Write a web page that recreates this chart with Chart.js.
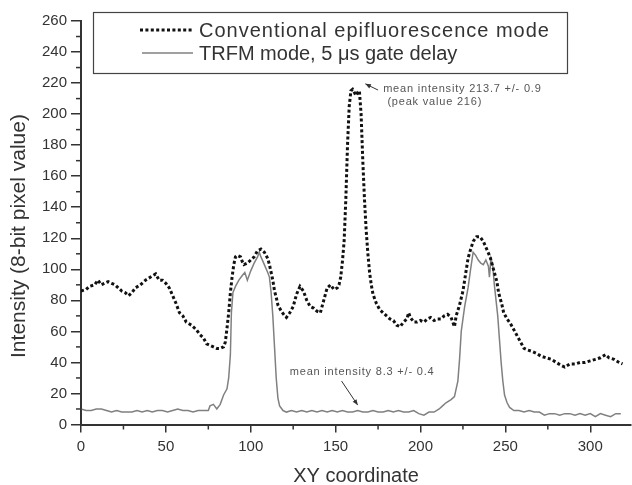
<!DOCTYPE html>
<html>
<head>
<meta charset="utf-8">
<script src="https://cdn.jsdelivr.net/npm/chart.js@4.4.0/dist/chart.umd.min.js"></script>
<style>
  body { margin: 0; background: #fff; }
</style>
</head>
<body>
<canvas id="profile" width="632" height="485"></canvas>
<script>
// conventional epifluorescence profile
const convX = [0,3,5,8,10,12,14,16,18,20,22,24,26,28,30,32,35,38,41,44,46,48,50,52,54,56,58,60,62,65,
  68,70,72,74,76,78,80,82,84,85,86,87,88,89,90,91,92,94,95,96,98,100,102,104,106,108,110,111,112,113,
  114,115,116,118,120,121,123,125,127,129,131,133,135,137,139,141,143,145,147,149,151,152,153,154,155,156,157,158,159,160,
  161,162,163,164,165,166,167,168,169,170,171,172,174,176,178,180,182,184,186,188,190,192,193,194,196,198,200,202,204,206,
  208,210,212,214,216,218,220,221,223,225,226,227,228,229,231,233,235,237,239,241,243,245,246,248,249,251,253,255,257,259,
  261,263,266,268,271,274,277,280,283,285,288,291,294,297,300,303,306,309,311,314,317,319];
const convY = [86,87,89,90,93,90,91,92,91,90,88,86,85,83,85,88,90,93,95,97,93,93,91,88,83,78,72,70,66,64,
  61,58,56,52,51,50,49,49,50,53,62,72,85,95,103,108,109,108,105,103,104,106,108,112,113,111,107,103,98,93,
  86,82,77,73,70,69,72,76,84,89,86,80,76,75,73,72,80,88,90,87,88,90,95,105,118,145,180,205,215,216,
  214,212,214,215,200,170,145,125,110,98,90,84,78,74,72,70,68,67,64,63,66,68,72,69,66,66,67,66,68,69,
  67,68,68,70,71,69,63,70,77,86,93,100,107,111,118,121,121,118,113,108,100,92,85,77,72,68,65,61,57,53,
  49,48,47,46,44,43,42,40,38,37,39,39,40,40,41,42,43,45,43,42,40,39];

// TRFM, 5 us gate delay
const trfmX = [0,3,6,9,12,15,18,21,24,27,30,33,36,39,42,45,48,51,54,57,
  60,63,66,69,72,75,76,78,80,82,84,86,87,88,88.6,89.5,91,93,95,96.5,
  98,100,102,104,105,106,108,110,111,112,113,114,115,116,117,119,121,124,127,130,
  133,136,139,142,145,148,151,154,157,160,163,166,169,172,175,178,181,184,187,190,
  193,196,199,202,205,208,211,213,215,218,220,222,223,224,226,228,229.5,231,232.5,234,
  235.5,237,238.5,240,240.6,241.5,242.5,243.5,244.5,245.5,246.5,247.5,248.5,249.5,251,252.5,255,258,261,264,
  267,270,273,276,279,282,285,288,291,294,297,300,303,306,309,312,315,318];
const trfmY = [10,9,9,10,10,9,8,9,8,8,8,9,8,9,8,9,9,8,9,10,
  9,9,8,9,9,9,12,13,10,13,19,23,30,45,72,85,89,93,96,98,
  93,99,104,108,111,108,103,98,95,85,70,50,30,17,12,9,8,9,8,9,
  8,9,8,9,8,9,8,9,8,8,9,8,8,9,8,8,9,8,9,8,
  8,9,7,6,8,8,10,12,14,16,18,28,42,60,76,88,100,111,109,106,
  104,103,106,102,95,107,103,90,80,70,55,40,28,19,14,11,9,9,8,9,
  8,8,6,7,7,6,7,7,6,7,6,7,5,7,6,5,7,7];

const xTicks = [0, 50, 100, 150, 200, 250, 300];
const xMinor = [25, 75, 125, 175, 225, 275];
const yTicks = [0,20,40,60,80,100,120,140,160,180,200,220,240,260];
const yMinor = [10,30,50,70,90,110,130,150,170,190,210,230,250];

const seriesNames = ['Conventional epifluorescence mode', 'TRFM mode, 5 \u03bcs gate delay'];
const notes = [
  { text: 'mean intensity 213.7 +/- 0.9', x: 178, y: 216 },
  { text: '(peak value 216)', x: 180.5, y: 208 },
  { text: 'mean intensity 8.3 +/- 0.4', x: 123, y: 34 }
];
const arrows = [
  { from: [175, 215.5], to: [167.5, 219.5] },
  { from: [153.5, 28], to: [163, 12.5] }
];

const axisColor = '#333';
const textColor = '#333';
const dotDash = [3, 2.4];
const grayLine = '#808080';

function pairs(xs, ys) {
  return xs.map((x, i) => ({ x: x, y: ys[i] }));
}

function arrow(ctx, x1, y1, x2, y2) {
  const a = Math.atan2(y2 - y1, x2 - x1);
  ctx.beginPath();
  ctx.moveTo(x1, y1);
  ctx.lineTo(x2, y2);
  ctx.stroke();
  ctx.beginPath();
  ctx.moveTo(x2, y2);
  ctx.lineTo(x2 - 6 * Math.cos(a - 0.4), y2 - 6 * Math.sin(a - 0.4));
  ctx.lineTo(x2 - 6 * Math.cos(a + 0.4), y2 - 6 * Math.sin(a + 0.4));
  ctx.closePath();
  ctx.fill();
}

const overlay = {
  id: 'overlay',
  afterDraw(chart) {
    const ctx = chart.ctx;
    const xs = chart.scales.x, ys = chart.scales.y;
    const area = chart.chartArea;
    ctx.save();

    // minor ticks
    ctx.strokeStyle = axisColor;
    ctx.lineWidth = 1.5;
    xMinor.forEach(v => {
      const px = xs.getPixelForValue(v);
      ctx.beginPath();
      ctx.moveTo(px, area.bottom);
      ctx.lineTo(px, area.bottom + 5);
      ctx.stroke();
    });
    yMinor.forEach(v => {
      const py = ys.getPixelForValue(v);
      ctx.beginPath();
      ctx.moveTo(area.left - 5, py);
      ctx.lineTo(area.left + 1, py);
      ctx.stroke();
    });

    // legend box
    ctx.strokeStyle = '#444';
    ctx.lineWidth = 1.2;
    ctx.strokeRect(93.5, 12.5, 474, 61);
    ctx.lineWidth = 3;
    ctx.strokeStyle = '#111';
    ctx.setLineDash(dotDash);
    ctx.beginPath();
    ctx.moveTo(140, 30);
    ctx.lineTo(194, 30);
    ctx.stroke();
    ctx.setLineDash([]);
    ctx.lineWidth = 1.5;
    ctx.strokeStyle = grayLine;
    ctx.beginPath();
    ctx.moveTo(142, 53);
    ctx.lineTo(193, 53);
    ctx.stroke();
    ctx.fillStyle = textColor;
    ctx.font = '20px "Liberation Sans", Arial, sans-serif';
    ctx.textBaseline = 'middle';
    ctx.textAlign = 'left';
    ctx.letterSpacing = '1px';
    ctx.fillText(seriesNames[0], 199, 31);
    ctx.letterSpacing = '0px';
    ctx.fillText(seriesNames[1], 199, 54);

    // annotations
    ctx.fillStyle = '#555';
    ctx.strokeStyle = '#555';
    ctx.lineWidth = 1;
    ctx.font = '11px "Liberation Sans", Arial, sans-serif';
    ctx.letterSpacing = '0.8px';
    notes.forEach(n => {
      ctx.fillText(n.text, xs.getPixelForValue(n.x), ys.getPixelForValue(n.y));
    });
    ctx.letterSpacing = '0px';
    ctx.fillStyle = '#333';
    ctx.strokeStyle = '#333';
    arrows.forEach(a => {
      arrow(ctx, xs.getPixelForValue(a.from[0]), ys.getPixelForValue(a.from[1]),
        xs.getPixelForValue(a.to[0]), ys.getPixelForValue(a.to[1]));
    });

    // axis titles
    ctx.fillStyle = textColor;
    ctx.textAlign = 'center';
    ctx.font = '20px "Liberation Sans", Arial, sans-serif';
    ctx.fillText('XY coordinate', (area.left + area.right) / 2, 476);
    ctx.translate(19, 236);
    ctx.rotate(-Math.PI / 2);
    ctx.font = '21px "Liberation Sans", Arial, sans-serif';
    ctx.fillText('Intensity (8-bit pixel value)', 0, 0);
    ctx.restore();
  }
};

const tickFont = { family: '"Liberation Sans", Arial, sans-serif', size: 15 };

new Chart(document.getElementById('profile'), {
  type: 'line',
  data: {
    datasets: [{
      label: seriesNames[0],
      data: pairs(convX, convY),
      borderColor: '#111',
      borderWidth: 3,
      borderDash: dotDash,
      borderCapStyle: 'butt',
      pointRadius: 0,
      tension: 0,
      fill: false
    }, {
      label: seriesNames[1],
      data: pairs(trfmX, trfmY),
      borderColor: grayLine,
      borderWidth: 1.5,
      pointRadius: 0,
      tension: 0,
      fill: false
    }]
  },
  options: {
    responsive: false,
    animation: false,
    devicePixelRatio: 1,
    layout: { padding: { top: 21, right: 1, left: 0, bottom: 0 } },
    plugins: { legend: { display: false }, tooltip: { enabled: false } },
    scales: {
      x: {
        type: 'linear',
        min: 0,
        max: 324,
        afterFit: s => { s.height = 60.5; },
        afterBuildTicks: s => { s.ticks = xTicks.map(v => ({ value: v })); },
        grid: { drawOnChartArea: false, tickLength: 8, color: axisColor, lineWidth: 1.5 },
        border: { color: axisColor, width: 2 },
        ticks: { font: tickFont, color: textColor, padding: 5, maxRotation: 0, autoSkip: false }
      },
      y: {
        type: 'linear',
        min: 0,
        max: 260,
        afterFit: s => { s.width = 81; },
        afterBuildTicks: s => { s.ticks = yTicks.map(v => ({ value: v })); },
        grid: { drawOnChartArea: false, tickLength: 10, color: axisColor, lineWidth: 1.5 },
        border: { color: axisColor, width: 2 },
        ticks: { font: tickFont, color: textColor, padding: 4, autoSkip: false }
      }
    }
  },
  plugins: [overlay]
});
</script>
</body>
</html>
